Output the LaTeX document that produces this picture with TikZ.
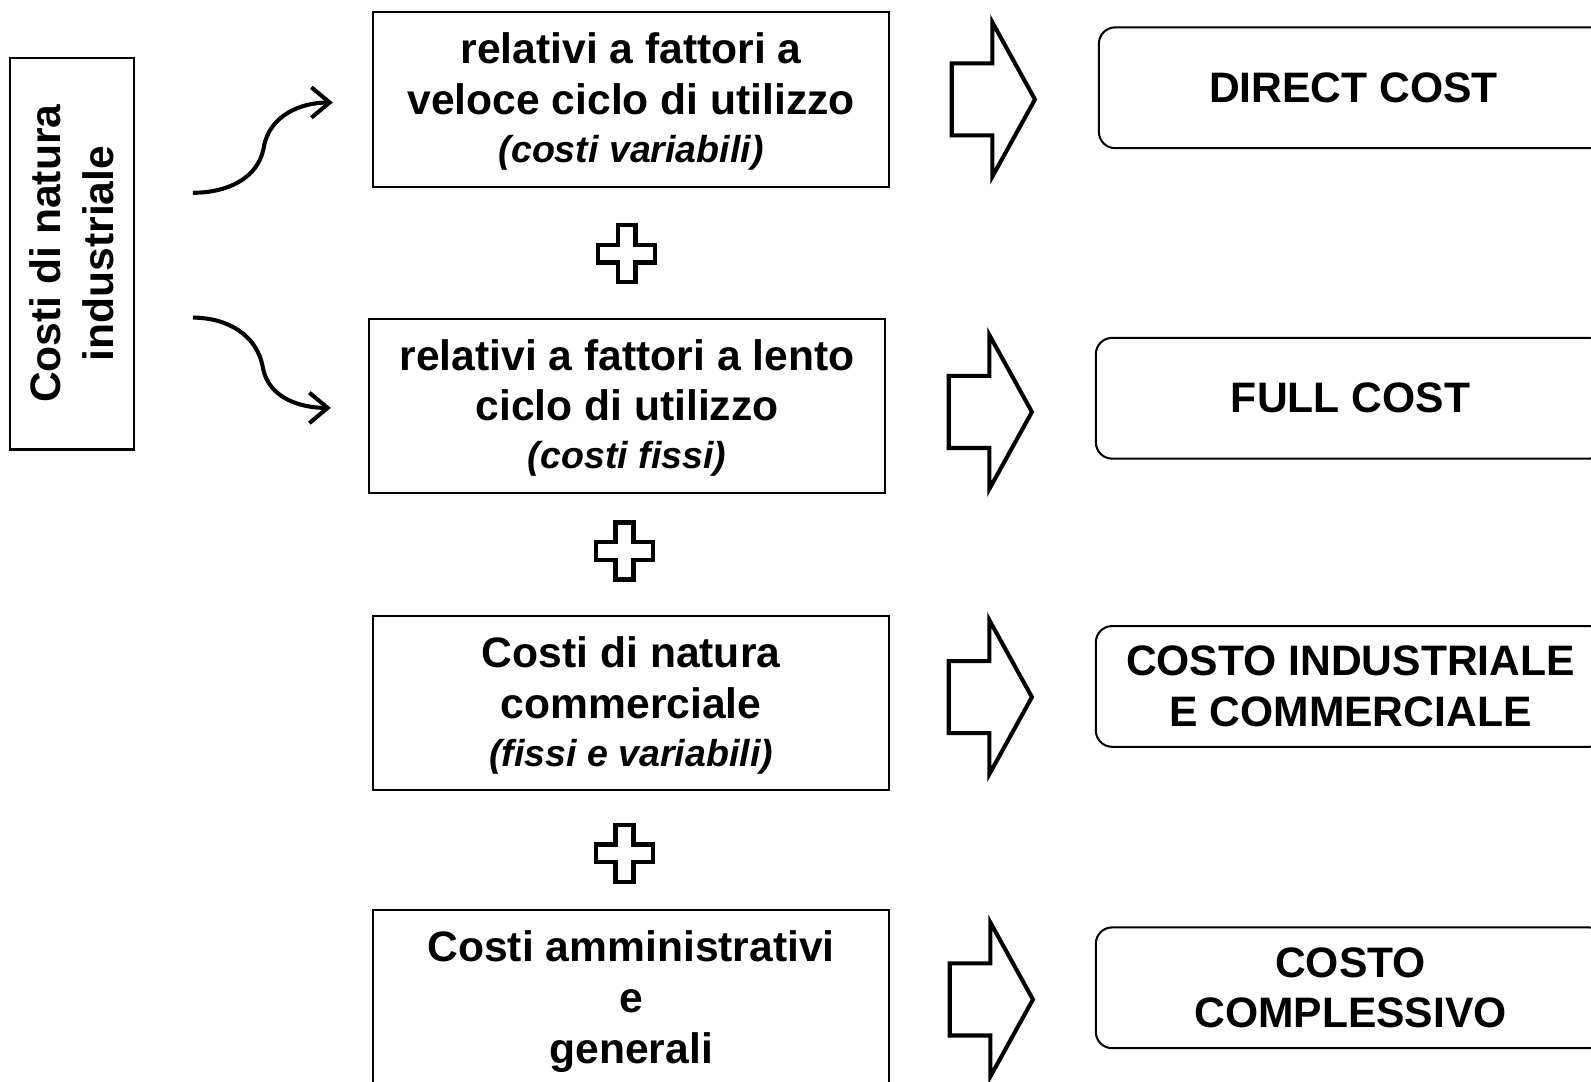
\documentclass[tikz,border=0pt]{standalone}
\usepackage{fontspec}
\setmainfont{Liberation Sans}
\usetikzlibrary{arrows.meta}
\begin{document}
\begin{tikzpicture}[x=0.5pt,y=-0.5pt,
  txt/.style={font=\fontsize{21}{25}\selectfont\bfseries, align=center, inner sep=0pt},
  sqbox/.style={draw, line width=1pt, minimum width=254pt, minimum height=86pt, inner sep=0pt},
  rbox/.style={txt, draw, line width=1pt, rounded corners=8pt, minimum width=251pt, minimum height=59.5pt},
  curvearrow/.style={line width=2pt, -{Straight Barb[length=9pt,width=15pt]}},
  blockarrow/.style={line width=2pt, line join=miter},
  plussign/.style={line width=2.2pt, line join=miter},
  pics/bigarrow/.style={code={
    \draw[blockarrow] (-82,-35.5) -- (-42,-35.5) -- (-42,-76) -- (0,0) -- (-42,76) -- (-42,35.5) -- (-82,35.5) -- cycle;}},
  pics/crossplus/.style={code={
    \draw[plussign] (-8.7,-28) -- (8.7,-28) -- (8.7,-8.7) -- (28,-8.7) -- (28,8.7) -- (8.7,8.7) -- (8.7,28) -- (-8.7,28) -- (-8.7,8.7) -- (-28,8.7) -- (-28,-8.7) -- (-8.7,-8.7) -- cycle;}}
]
\newcommand\itline[1]{{\fontsize{18.5}{25}\selectfont\bfseries\itshape #1}}
\useasboundingbox (0,0) rectangle (1568,1066);
\clip (0,0) rectangle (1568,1066);

% left vertical box
\node[txt, draw, line width=1pt, rotate=90, minimum width=193pt, minimum height=61pt,
      font=\fontsize{21}{26}\selectfont\bfseries] (ind) at (71,250) {Costi di natura\\industriale};

% middle boxes
\node[sqbox] (b1) at (622,98) {};
\node[txt] (b1t) at ([yshift=-1pt]b1.center) {relativi a fattori a\\veloce ciclo di utilizzo\\[-1.5pt]\itline{(costi variabili)}};
\node[sqbox] (b2) at (618,400) {};
\node[txt] (b2t) at ([yshift=-1pt]b2.center) {relativi a fattori a lento\\ciclo di utilizzo\\[-1.5pt]\itline{(costi fissi)}};
\node[sqbox] (b3) at (622,693) {};
\node[txt] (b3t) at ([yshift=-1.2pt]b3.center) {Costi di natura\\commerciale\\[-1.5pt]\itline{(fissi e variabili)}};
\node[sqbox] (b4) at (622,983) {};
\node[txt] (b4t) at ([yshift=-2pt]b4.center) {Costi amministrativi\\e\\generali};

% right rounded boxes
\node[rbox] (r1) at (1334,86.5) {DIRECT COST};
\node[rbox] (r2) at (1331,392.5) {FULL COST};
\node[rbox] (r3) at (1331,676.5) {COSTO INDUSTRIALE\\E COMMERCIALE};
\node[rbox] (r4) at (1331,973.5) {COSTO\\COMPLESSIVO};

% plus signs
\pic at (617.5,250) {crossplus};
\pic at (615.5,543) {crossplus};
\pic at (615.5,841) {crossplus};

% block arrows
\pic at (1020,98) {bigarrow};
\pic at (1017,406) {bigarrow};
\pic at (1017,687) {bigarrow};
\pic at (1018,985) {bigarrow};

% curved arrows
\coordinate (s1) at (190,190);
\coordinate (m1) at (260,145);
\coordinate (e1) at (328,101);
\coordinate (s2) at (190,313);
\coordinate (m2) at (259,362);
\coordinate (e2) at (326,402);
\draw[curvearrow] (s1) to[out=0,in=-100] (m1) to[out=80,in=180] (e1);
\draw[curvearrow] (s2) to[out=0,in=100] (m2) to[out=-80,in=180] (e2);
\end{tikzpicture}
\end{document}
